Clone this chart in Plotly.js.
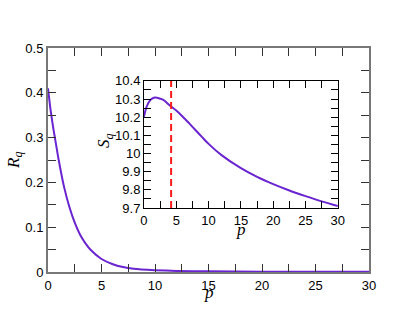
<!DOCTYPE html>
<html>
<head>
<meta charset="utf-8">
<script src="https://cdn.plot.ly/plotly-3.0.1.min.js"></script>
<style>
  html, body { margin: 0; padding: 0; background: white; }
  #graph { width: 415px; height: 321px; }
</style>
</head>
<body>
<div id="graph"></div>
<script>
// main panel: R_q vs p
const pMain = [0, 0.25, 0.5, 0.75, 1, 1.5, 2, 2.5, 3, 3.5, 4, 5, 6, 7, 8, 10, 12, 15, 20, 25, 30];
const rMain = [0.41, 0.36, 0.32, 0.285, 0.25, 0.19, 0.145, 0.11, 0.083, 0.064, 0.049, 0.029, 0.018, 0.011, 0.007, 0.004, 0.0025, 0.0015, 0.0008, 0.0005, 0.0003];

// inset: S_q vs p
const pInset = [0, 0.25, 0.5, 1, 1.25, 1.75, 2.5, 3, 4, 5, 6, 7, 8, 9, 10, 12, 15, 17.5, 20, 22.5, 25, 27.5, 30];
const sInset = [10.203, 10.24, 10.265, 10.295, 10.303, 10.309, 10.302, 10.295, 10.265, 10.237, 10.203, 10.166, 10.128, 10.09, 10.053, 9.991, 9.919, 9.871, 9.831, 9.796, 9.765, 9.736, 9.71];

// dashed marker in inset
const pMark = [4.2, 4.2];
const sMark = [9.7, 10.4];

const purple = '#6a24d0';
const tickFont = { family: 'Liberation Sans, Arial, sans-serif', size: 13, color: '#000' };
const titleFont = { family: 'Liberation Serif, Times New Roman, serif', size: 17, color: '#000' };

const curve = {
  x: pMain, y: rMain, type: 'scatter', mode: 'lines',
  line: { color: purple, width: 2, shape: 'spline', smoothing: 0.6 },
  xaxis: 'x', yaxis: 'y', hoverinfo: 'skip'
};
const inset = {
  x: pInset, y: sInset, type: 'scatter', mode: 'lines',
  line: { color: purple, width: 2, shape: 'spline', smoothing: 0.8 },
  xaxis: 'x2', yaxis: 'y2', hoverinfo: 'skip'
};
const mark = {
  x: pMark, y: sMark, type: 'scatter', mode: 'lines',
  line: { color: '#ff1a1a', width: 2, dash: '7px,4px' },
  xaxis: 'x2', yaxis: 'y2', hoverinfo: 'skip'
};

function axis(extra) {
  return Object.assign({
    showgrid: false, zeroline: false, showline: true, mirror: 'allticks',
    ticks: 'inside', tickwidth: 1, tickfont: tickFont
  }, extra);
}

function label(text, xref, x, y, angle) {
  return {
    text: text, xref: xref, yref: 'paper', x: x, y: y, textangle: angle || 0,
    xanchor: 'center', yanchor: 'middle', showarrow: false, font: titleFont
  };
}

const layout = {
  width: 415, height: 321,
  margin: { l: 48, r: 46, t: 48, b: 49 },
  paper_bgcolor: 'white', plot_bgcolor: 'white',
  showlegend: false,
  xaxis: axis({
    range: [0, 30], dtick: 5, tick0: 0,
    linecolor: '#777', linewidth: 2, ticklen: 8, tickcolor: '#333',
    minor: { dtick: 2.5, ticks: 'inside', ticklen: 8, tickcolor: '#333', showgrid: false }
  }),
  yaxis: axis({
    range: [0, 0.5], dtick: 0.1, tick0: 0,
    linecolor: '#777', linewidth: 2, ticklen: 8, tickcolor: '#333',
    minor: { dtick: 0.05, ticks: 'inside', ticklen: 8, tickcolor: '#333', showgrid: false }
  }),
  xaxis2: axis({
    domain: [0.299, 0.903], anchor: 'y2',
    range: [0, 30], dtick: 5, tick0: 0,
    linecolor: '#000', linewidth: 1, ticklen: 7, tickcolor: '#000',
    minor: { dtick: 2.5, ticks: 'inside', ticklen: 7, tickcolor: '#000', showgrid: false }
  }),
  yaxis2: axis({
    domain: [0.286, 0.853], anchor: 'x2',
    range: [9.7, 10.4], dtick: 0.1, tick0: 9.7,
    linecolor: '#000', linewidth: 1, ticklen: 7, tickcolor: '#000',
    minor: { dtick: 0.05, ticks: 'inside', ticklen: 7, tickcolor: '#000', showgrid: false }
  }),
  // axis titles placed by hand so they sit close to the tick labels
  annotations: [
    label('<i>p</i>', 'x', 15, -0.092),
    label('<i>R</i><sub><i>q</i></sub>', 'paper', -0.103, 0.5, -90),
    label('<i>p</i>', 'x2', 15, 0.188),
    label('<i>S</i><sub><i>q</i></sub>', 'paper', 0.178, 0.585, -90)
  ]
};

Plotly.newPlot('graph', [curve, inset, mark], layout, { staticPlot: true });
</script>
</body>
</html>
